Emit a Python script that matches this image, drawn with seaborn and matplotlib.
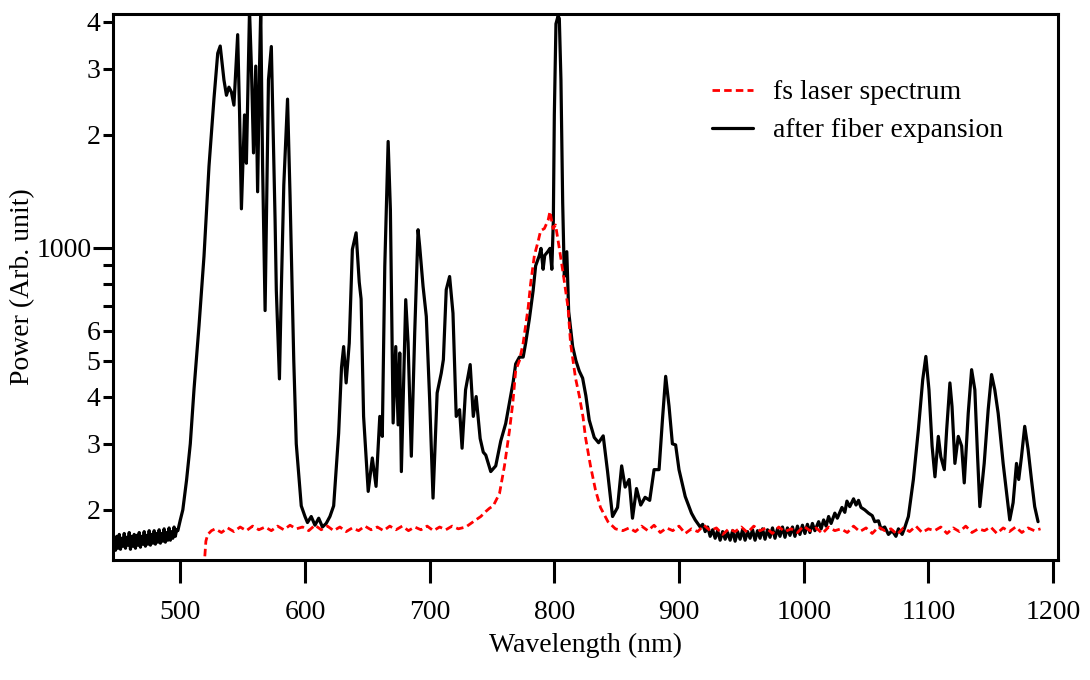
import numpy as np
import pandas as pd
import matplotlib
matplotlib.use("Agg")
import matplotlib.pyplot as plt
from matplotlib.ticker import FixedLocator, FixedFormatter
import seaborn as sns

# ---------------- data ----------------
fiber_wl = [447, 448, 449, 450, 451, 452, 453, 454, 455, 456, 457, 458, 459, 460, 461, 462, 463,
            464, 465, 466, 467, 468, 469, 470, 471, 472, 473, 474, 475, 476, 477, 478, 479, 480,
            481, 482, 483, 484, 485, 486, 487, 488, 489, 490, 491, 492, 493, 494, 495, 496, 497,
            498, 499, 500, 502, 505, 508, 511, 515, 519, 523,
            527, 530, 532, 535, 537, 539, 541, 543, 546, 547.5, 549, 551.5, 553, 555.5, 557,
            558.7, 560.5, 562, 563.5, 564.5, 566, 568, 570.7, 573, 576, 577, 579.5, 581, 583,
            586, 588, 591, 593, 597, 600, 602, 605, 608, 611, 614, 617, 620, 623, 627, 629.3,
            631, 633, 635.5, 638, 641, 643.5, 645, 647, 650.7, 654, 657, 660, 662, 664, 666.7,
            668.5, 670.7, 672.8, 674.7, 676, 677.3, 680.8, 682.7, 685.3, 688, 690.7, 692, 694.7,
            697.3, 700, 702.7, 706, 709.3, 711, 713.3, 716, 718.7, 721.3, 724, 726, 728.8, 732.5,
            735, 737.3, 740.5, 743, 745, 749, 753, 757, 761, 764, 767, 769, 772, 775, 777, 780,
            783, 785, 788, 789.3, 791, 792.3, 794.7, 796.5, 798, 799.2, 800, 801.3, 803, 804,
            805.3, 806.7, 808, 810, 811.5, 814.7, 817.3, 820, 822.7, 825.3, 828, 832, 835.5,
            839.2, 842.7, 846.7, 850.7, 854, 856.8, 860, 862.7, 865.9, 869.3, 872.8, 876.5, 880,
            884, 886.7, 889.3, 892, 894.7, 897.3, 900, 905, 910, 913, 915, 917, 919, 921, 923,
            925, 927, 929, 931, 933, 935, 937, 939, 941, 943, 945, 947, 949, 951, 953, 955, 957,
            959, 961, 963, 965, 967, 969, 971, 973, 975, 977, 979, 981, 983, 985, 987, 989, 991,
            993, 995, 997, 999, 1001, 1003, 1005, 1007, 1009, 1012, 1014, 1016, 1018, 1020, 1022,
            1025, 1027, 1030.7, 1033, 1034.7, 1037, 1040, 1042, 1044, 1046, 1049, 1052, 1055,
            1057, 1060, 1062, 1065, 1068, 1071, 1074, 1076, 1079, 1081, 1084, 1088, 1092, 1095.5,
            1098, 1100.5, 1103, 1105.3, 1108, 1110,
            1112.8, 1114.7, 1117.3, 1119, 1121.3, 1124, 1126.7, 1128.8, 1132, 1134.7, 1137.3,
            1139.5, 1141.3, 1144.8, 1148, 1150.7, 1153.3, 1156, 1160, 1165.3, 1168, 1170.7,
            1172.5, 1174.7, 1177.3, 1180, 1182.7, 1185.3, 1188]
fiber_pw = [165, 156, 170, 158, 172, 157, 168, 160, 173, 158, 169, 161, 174, 157, 170, 160, 172,
            158, 171, 161, 174, 159, 170, 162, 175, 160, 171, 162, 176, 161, 172, 163, 176, 162,
            173, 164, 177, 163, 173, 165, 178, 164, 174, 166, 179, 166, 175, 168, 180, 170, 177,
            176, 182, 188, 200, 240, 300, 420, 620, 950, 1650,
            2500, 3300, 3450, 2800, 2550, 2680, 2600, 2400, 3700, 2300, 1270, 2260, 1680, 4300, 3050,
            1790, 3050, 1410, 3000, 4300, 1640, 680, 2800, 3440, 1190, 770, 447, 770, 1470,
            2490, 1380, 500, 300, 205, 192, 185, 192, 182, 190, 180, 184, 192, 205, 320, 480,
            545, 436, 557, 990, 1096, 810, 730, 355, 224, 275, 231, 355, 314, 892, 1920,
            1262, 341, 545, 337, 524, 253, 727, 557, 278, 592, 1117, 1008, 789,
            656, 393, 215, 410, 463, 503, 773, 838, 669, 355, 370, 292, 418, 488,
            355, 401, 310, 285, 280, 253, 262, 305, 340, 386, 439, 490, 511, 511, 557, 647,
            769, 895, 954, 996, 876, 954, 976, 996, 876, 1184, 2263, 3955, 4150, 4085,
            2805, 1318, 838, 976, 676, 545, 500, 469, 449, 403, 347, 312, 302,
            315, 253, 192, 203, 262, 230, 241, 190, 228, 206, 216, 212, 256,
            256, 347, 454, 378, 300, 298, 256, 217, 196, 188, 184, 180, 183, 175, 180,
            170, 177, 168, 176, 166, 175, 167, 174, 166, 176, 165, 175, 167, 177, 166, 175, 168,
            177, 166, 176, 168, 178, 167, 177, 169, 179, 168, 178, 170, 180, 169, 179, 171, 180,
            170, 181, 172, 182, 173, 183, 174, 184, 176, 186, 178, 188, 181, 192, 184,
            196, 190, 203, 197, 211, 204, 214, 206, 212, 203, 200, 196, 193,
            186, 187, 178, 180, 172, 176, 170, 178, 172, 179, 192, 241, 327, 445,
            513, 418, 296, 245, 314, 277,
            256, 327, 436, 377, 266, 314, 296, 236, 362, 473, 418,
            277, 204, 266, 370, 459, 418, 362, 266, 188, 209, 266,
            241, 277, 334, 290, 241, 204, 186]

laser_wl = [519, 520.5, 522, 525, 528, 533, 538, 543, 548, 553, 558, 563, 568, 573, 578, 583,
            588, 593, 598, 603, 608, 613, 618, 623, 628, 633, 638, 643, 648, 653, 658, 663, 668,
            673, 678, 683, 688, 693, 698, 703, 708, 713, 718, 723, 729, 733, 737, 741, 745, 748,
            751, 756, 760, 764, 766.7, 769, 772, 775, 779, 781, 784, 787, 789, 792, 795, 796.5,
            799, 801, 804, 807, 809, 811, 813, 817, 820, 823, 825, 829, 833, 837, 843, 849, 855,
            860, 865, 870, 875, 880, 885, 890, 895, 900, 905, 910, 915, 920, 925, 930, 935, 940,
            945, 950, 955, 960, 965, 970, 975, 980, 985, 990, 995, 1000, 1005, 1010, 1015, 1020,
            1025, 1030, 1035, 1040, 1045, 1050, 1055, 1060, 1065, 1070, 1075, 1080, 1085, 1090,
            1095, 1100, 1105, 1110, 1115, 1120, 1125, 1130, 1135, 1140, 1145, 1150, 1155, 1160,
            1165, 1170, 1175, 1180, 1185, 1190]
laser_pw = [140, 165, 172, 176, 178, 174, 179, 175, 180, 176, 181, 177, 180, 176, 181, 177,
            182, 178, 180, 176, 182, 177, 181, 176, 180, 175, 179, 176, 181, 177, 180, 176, 181,
            177, 181, 176, 180, 177, 181, 176, 180, 177, 181, 178, 180, 184, 188, 192, 198, 202,
            205, 221, 262, 325, 386, 470, 500, 557, 692, 803, 954, 1040, 1110, 1125, 1184, 1249,
            1125, 1150, 996, 858, 769, 692, 557, 449, 403, 354, 312, 262, 226, 203, 186, 178, 176,
            179, 175, 181, 176, 182, 174, 179, 176, 181, 173, 178, 175, 182, 176, 179, 172, 178,
            175, 180, 174, 181, 176, 179, 173, 180, 175, 178, 174, 181, 176, 179, 173, 180,
            176, 178, 174, 181, 175, 179, 173, 180, 176, 178, 172, 179, 175, 181,
            174, 178, 176, 180, 173, 179, 175, 181, 174, 178, 176, 180, 173, 179,
            175, 180, 174, 179, 176, 178]

x_ticks = [500, 600, 700, 800, 900, 1000, 1100, 1200]
y_major = [1000]
y_minor = [200, 300, 400, 500, 600, 700, 800, 900, 2000, 3000, 4000]
y_minor_labels = ["2", "3", "4", "5", "6", "", "", "", "2", "3", "4"]

series_laser = "fs laser spectrum"
series_fiber = "after fiber expansion"

# ---------------- plotting ----------------
sns.set_style("ticks", {"text.color": "black", "axes.labelcolor": "black",
                        "xtick.color": "black", "ytick.color": "black",
                        "axes.edgecolor": "black"})
plt.rcParams["font.family"] = ["Liberation Serif", "DejaVu Serif"]

fig = plt.figure(figsize=(10.9, 6.8), dpi=100)
ax = fig.add_axes([113 / 1090, 1 - 560 / 680, (1058 - 113) / 1090, (560 - 14) / 680])

df_fiber = pd.DataFrame({"wl": fiber_wl, "pw": fiber_pw})
df_laser = pd.DataFrame({"wl": laser_wl, "pw": laser_pw})

sns.lineplot(data=df_fiber, x="wl", y="pw", ax=ax, color="black", linewidth=2.3,
             label=series_fiber, zorder=2, estimator=None)
sns.lineplot(data=df_laser, x="wl", y="pw", ax=ax, color="#ff0000", linewidth=2.0,
             label=series_laser, zorder=3, estimator=None)
ax.lines[1].set_dashes((2.7, 1.5))

ax.set_yscale("log")
ax.set_xlim(446, 1204)
ax.set_ylim(147, 4200)

ax.xaxis.set_major_locator(FixedLocator(x_ticks))
ax.set_xticklabels([str(t) for t in x_ticks])
ax.xaxis.set_minor_locator(FixedLocator([]))
ax.yaxis.set_major_locator(FixedLocator(y_major))
ax.yaxis.set_major_formatter(FixedFormatter(["1000"]))
ax.yaxis.set_minor_locator(FixedLocator(y_minor))
ax.yaxis.set_minor_formatter(FixedFormatter(y_minor_labels))

ax.tick_params(axis="x", which="major", direction="out", length=16.5, width=2.2,
               pad=12, labelsize=20, colors="black")
ax.tick_params(axis="y", which="major", direction="out", length=14.5, width=2.2,
               pad=1, labelsize=20, colors="black")
ax.tick_params(axis="y", which="minor", direction="out", length=7.5, width=2.2,
               pad=1.5, labelsize=20, colors="black")

for s in ax.spines.values():
    s.set_linewidth(2.2)
    s.set_color("black")

ax.set_xlabel("Wavelength (nm)", fontsize=20, labelpad=6, color="black")
ax.set_ylabel("Power (Arb. unit)", fontsize=20, labelpad=1, color="black")

handles, labels = ax.get_legend_handles_labels()
order = [labels.index(series_laser), labels.index(series_fiber)]
leg = ax.legend([handles[i] for i in order], [labels[i] for i in order],
                loc="upper left", bbox_to_anchor=(0.607, 0.925), frameon=False,
                fontsize=20, handlelength=1.5, handletextpad=0.7, labelspacing=0.45)
for t in leg.get_texts():
    t.set_color("black")

ax.grid(False)
fig.savefig("out.png", dpi=100)
